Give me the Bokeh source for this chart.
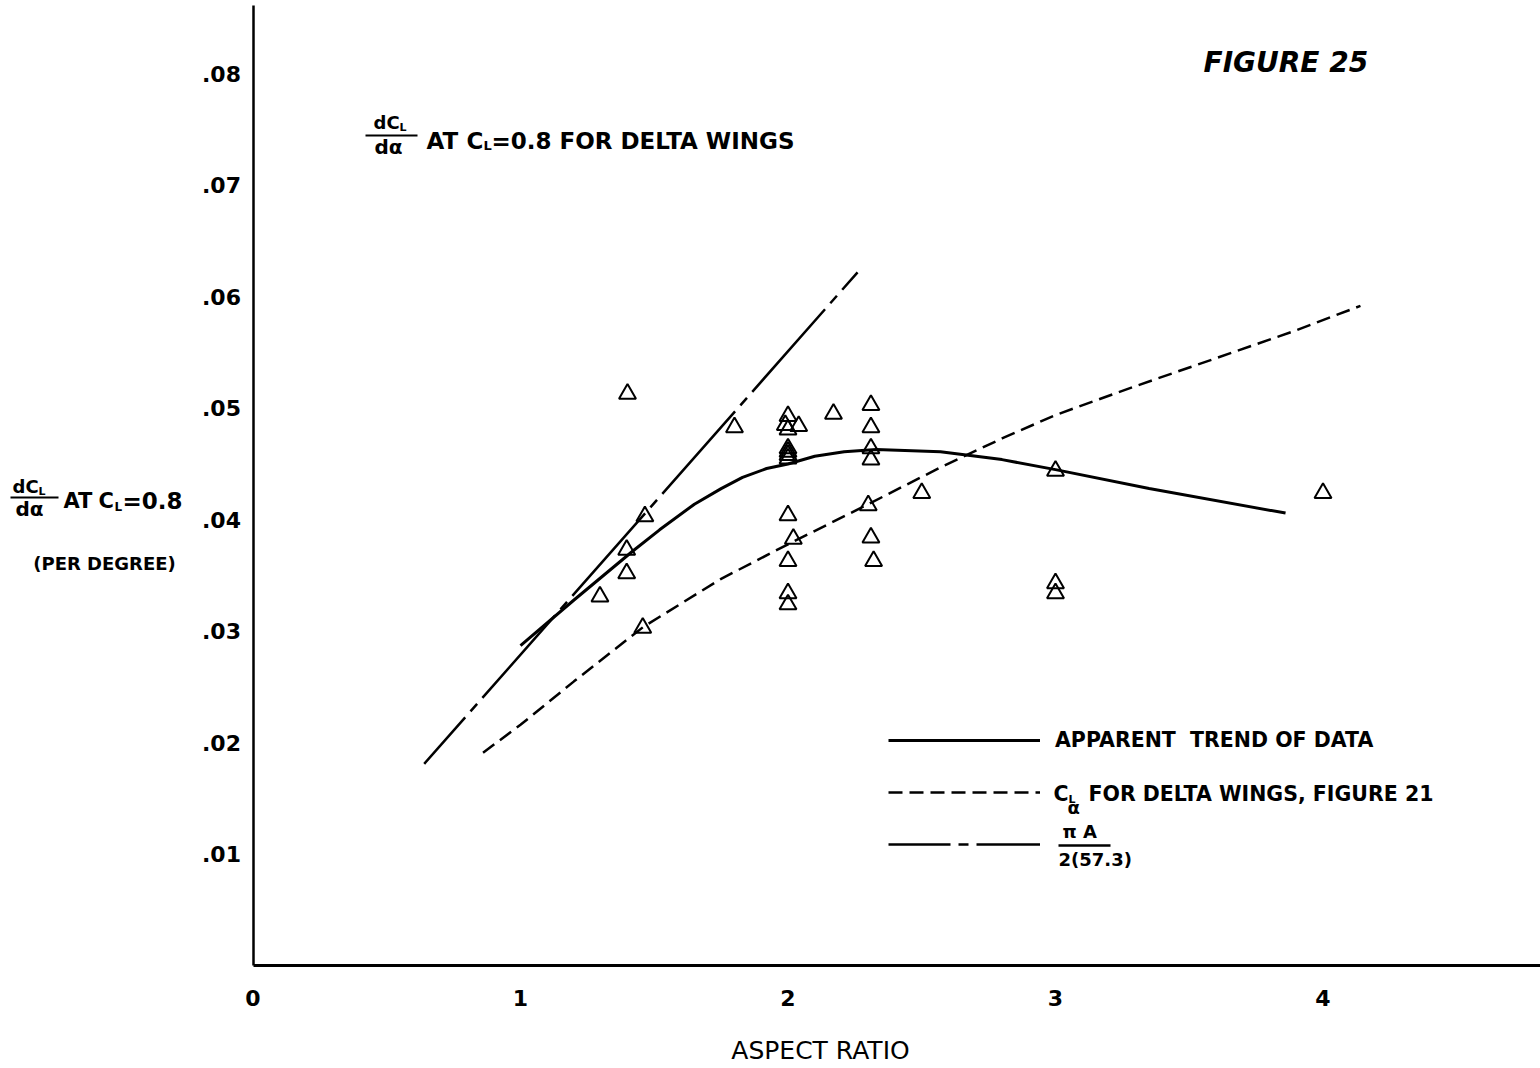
from bokeh.plotting import figure
from bokeh.models import (Range1d, FixedTicker, CustomJSTickFormatter, Label,
                          BoxAnnotation, Legend, LegendItem, LinearAxis)
from bokeh.core.properties import value
from bokeh.embed import file_html
from bokeh.resources import INLINE

# ---------------- data ----------------
# test points (aspect ratio, dCL/dalpha per degree)
pt_x = [1.40, 1.80, 1.465, 1.397, 1.397, 1.297, 1.457,
        2.00, 1.99, 2.04, 2.00, 2.00, 2.00, 2.00, 2.00, 2.00, 2.02, 2.00, 2.00, 2.00,
        2.17,
        2.31, 2.31, 2.31, 2.31, 2.30, 2.31, 2.32,
        2.50,
        3.00, 3.00, 3.00,
        4.00]
pt_y = [0.0513, 0.0483, 0.0403, 0.0373, 0.0352, 0.0331, 0.0303,
        0.0493, 0.0485, 0.0484, 0.0481, 0.0464, 0.0461, 0.0458, 0.0455, 0.0404, 0.0383, 0.0363, 0.0334, 0.0324,
        0.0495,
        0.0503, 0.0483, 0.0464, 0.0454, 0.0413, 0.0384, 0.0363,
        0.0424,
        0.0444, 0.0343, 0.0334,
        0.0424]

# apparent trend of data (solid curve)
trend_x = [1.0, 1.2, 1.42, 1.52, 1.65, 1.75, 1.83, 1.92, 2.0, 2.1, 2.21, 2.33,
           2.57, 2.8, 3.0, 3.35, 3.86]
trend_y = [0.0287, 0.0328, 0.0372, 0.0391, 0.0414, 0.0428, 0.0438, 0.0446, 0.0450,
           0.0457, 0.0461, 0.0463, 0.0461, 0.0454, 0.0445, 0.0428, 0.0406]

# CL_alpha for delta wings, figure 21 (dashed curve)
delta_x = [0.86, 1.0, 1.2, 1.46, 1.75, 2.0, 2.3, 2.57, 2.8, 3.0, 3.3, 3.6, 3.9, 4.14]
delta_y = [0.0191, 0.0216, 0.0255, 0.0304, 0.0347, 0.0378, 0.0414, 0.0447, 0.0473,
           0.0494, 0.0520, 0.0545, 0.0570, 0.0592]

# pi A / 2(57.3) (dash-dot line), end points
ideal_x = [0.64, 2.26]
ideal_y = [0.0181, 0.0622]

x_ticks = [0, 1, 2, 3, 4]
y_ticks = [0.01, 0.02, 0.03, 0.04, 0.05, 0.06, 0.07, 0.08]

# ---------------- layout ----------------
W, H = 1540, 1068
PX_X = 267.5      # pixels per unit aspect ratio
PX_Y = 11143.0    # pixels per unit of dCL/dalpha
ORIG_X, ORIG_Y = 252.5, 965.0   # page pixel of the origin


def dx(px):
    return (px - ORIG_X) / PX_X


def dy(py):
    return (ORIG_Y - py) / PX_Y


FONT = "DejaVu Sans"

p = figure(width=W, height=H, min_border=0, min_border_left=0, min_border_right=0,
           min_border_top=0, min_border_bottom=0,
           x_axis_location=None, y_axis_location=None,
           x_range=Range1d(dx(0), dx(W)), y_range=Range1d(dy(H), dy(0)),
           output_backend="svg", toolbar_location=None,
           background_fill_color="white", border_fill_color="white")
p.outline_line_color = None
p.grid.visible = False
p.xgrid.grid_line_color = None
p.ygrid.grid_line_color = None

xaxis = LinearAxis(fixed_location=0, bounds=(0, dx(W)), ticker=FixedTicker(ticks=x_ticks))
yaxis = LinearAxis(fixed_location=0, bounds=(0, dy(5)), ticker=FixedTicker(ticks=y_ticks),
                   formatter=CustomJSTickFormatter(code="return tick.toFixed(2).replace(/^0/, '');"))
for ax in (xaxis, yaxis):
    ax.axis_line_color = "black"
    ax.major_tick_line_color = None
    ax.minor_tick_line_color = None
    ax.major_tick_out = 0
    ax.major_tick_in = 0
    ax.major_label_text_font = FONT
    ax.major_label_text_font_style = "bold"
    ax.major_label_text_font_size = "22px"
    ax.major_label_text_color = "black"
xaxis.axis_line_width = 3
yaxis.axis_line_width = 2.5
xaxis.major_label_standoff = 24
yaxis.major_label_standoff = 12
p.add_layout(xaxis, "below")
p.add_layout(yaxis, "left")

# ---------------- marks ----------------
r_ideal = p.line(ideal_x, ideal_y, line_color="black", line_width=2.5,
                 line_dash="110 8 10 8", line_dash_offset=48)
r_delta = p.line(delta_x, delta_y, line_color="black", line_width=2.5, line_dash="14 7")
r_trend = p.line(trend_x, trend_y, line_color="black", line_width=3)
p.scatter(pt_x, pt_y, marker="triangle", size=17, line_color="black", line_width=2,
          fill_alpha=0)

legend = Legend(items=[
    LegendItem(label="APPARENT  TREND OF DATA", renderers=[r_trend]),
    LegendItem(label=value(""), renderers=[r_delta]),
    LegendItem(label=value(""), renderers=[r_ideal]),
], location=(888, 212), orientation="vertical", glyph_width=152, glyph_height=24,
    label_height=24, label_width=20, spacing=28, padding=0, margin=0, label_standoff=15,
    label_text_font=FONT, label_text_font_style="bold", label_text_font_size="20.5px",
    label_text_color="black", border_line_color=None, background_fill_alpha=0)
p.add_layout(legend)


# ---------------- texts ----------------
def lab(text, px, py, size, style="bold", align="left"):
    p.add_layout(Label(x=dx(px), y=dy(py), text=text, text_font=FONT,
                       text_font_size=f"{size}px", text_font_style=style,
                       text_align=align, text_baseline="middle", text_color="black"))


def bar(px0, px1, py, t=2.0):
    p.add_layout(BoxAnnotation(left=dx(px0), right=dx(px1), bottom=dy(py + t / 2),
                               top=dy(py - t / 2), fill_color="black", fill_alpha=1.0,
                               line_color=None))


# figure number
lab("FIGURE 25", 1203, 62, 28, style="bold italic")

# title
lab("dC", 373, 122, 18)
lab("L", 399, 127, 11)
bar(365, 417, 135)
lab("dα", 374, 146, 20)
lab("AT", 426, 140, 23)
lab("C", 466, 140, 23)
lab("L", 483, 145, 13)
lab("=0.8 FOR DELTA WINGS", 491, 140, 23)

# y axis title
lab("dC", 12, 486, 18)
lab("L", 38, 491, 11)
bar(10, 58, 497)
lab("dα", 15, 508, 20)
lab("AT", 63, 500, 21)
lab("C", 98, 500, 21)
lab("L", 114, 506, 12)
lab("=0.8", 122, 500, 23)
lab("(PER DEGREE)", 104, 563, 18, align="center")

# x axis title
lab("ASPECT RATIO", 820, 1050, 25, style="normal", align="center")

# legend texts
lab("C", 1053, 793, 20.5)
lab("L", 1068, 799, 11)
lab("α", 1067, 807, 18)
lab("FOR DELTA WINGS, FIGURE 21", 1088, 793, 20.5)
lab("π A", 1062, 831, 18)
bar(1058, 1110, 845, 2.5)
lab("2(57.3)", 1058, 859, 18)

open("out.html", "w").write(file_html(p, INLINE))
